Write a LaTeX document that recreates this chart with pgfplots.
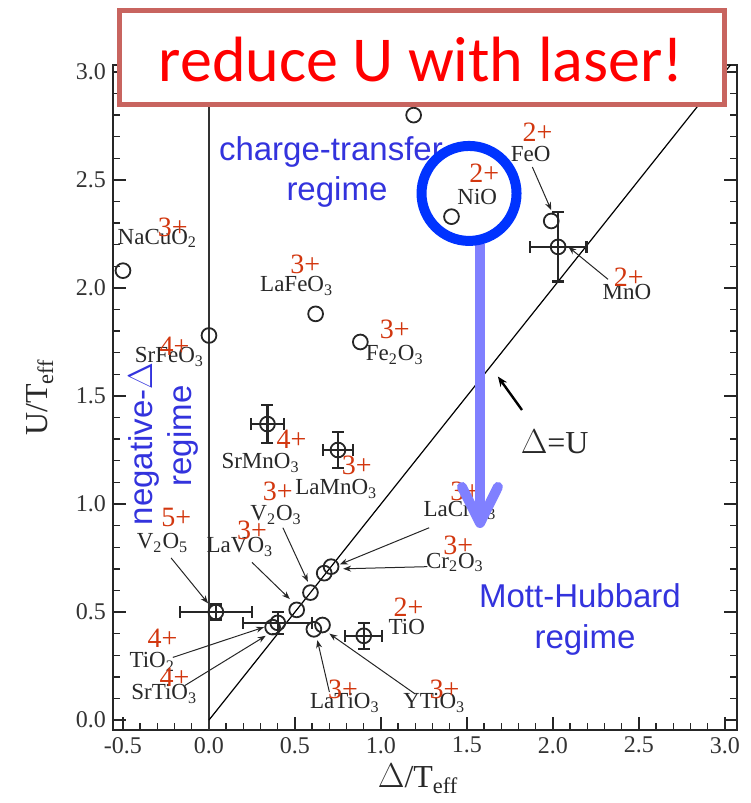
\documentclass[border=0pt]{standalone}
\usepackage{fontspec}
\setmainfont{Liberation Serif}
\newfontfamily\arialf{Liberation Sans}
\newfontfamily\calibrif{Carlito}
\usepackage{pgfplots}
\pgfplotsset{compat=1.18}
\usetikzlibrary{arrows.meta}

\definecolor{chg}{RGB}{210,55,15}
\definecolor{regimeblue}{RGB}{51,51,221}
\definecolor{ringblue}{RGB}{0,51,255}
\definecolor{arrowblue}{RGB}{128,128,255}
\definecolor{boxred}{RGB}{200,100,95}
\definecolor{ink}{RGB}{40,40,40}

% Delta/T_eff and U/T_eff of compounds without error bars
\pgfplotstableread{
x     y
-0.50 2.08
0.00  1.78
0.62  1.88
0.88  1.75
1.19  2.80
1.41  2.33
1.99  2.31
0.51  0.51
0.59  0.59
0.67  0.68
0.71  0.71
0.61  0.42
0.66  0.44
0.37  0.43
}\plainpts

% compounds with horizontal (ex) and vertical (ey) uncertainties
\pgfplotstableread{
x     y     ex     ey
2.03  2.19  0.165  0.16
0.34  1.37  0.096  0.088
0.75  1.25  0.087  0.083
0.04  0.50  0.21   0.035
0.40  0.45  0.20   0.05
0.90  0.39  0.107  0.06
}\errpts

\tikzset{
  cmp/.style={text=ink, font=\fontsize{11.5}{13}\selectfont, inner sep=0pt},
  ch/.style={text=chg, font=\fontsize{14}{16}\selectfont, inner sep=0pt},
  reg/.style={text=regimeblue, font=\arialf\fontsize{16.5}{20}\selectfont, inner sep=0pt, anchor=base},
  ann/.style={black!85, line width=0.5pt, -{Stealth[length=4pt,width=3pt]}},
}

\begin{document}
\begin{tikzpicture}
\useasboundingbox (0,0) rectangle (375pt,401.5pt);
\begin{axis}[
  at={(56.5pt,36.5pt)}, anchor=south west,
  scale only axis, width=312pt, height=332.5pt,
  xmin=-0.558, xmax=3.07, ymin=-0.046, ymax=3.032,
  clip=false,
  xtick={-0.5,0,0.5,1,1.5,2,2.5,3},
  ytick={0,0.5,1,1.5,2,2.5,3},
  minor tick num=4,
  tick align=inside,
  major tick length=6.5pt, minor tick length=3.5pt,
  tick style={black!85, line width=0.7pt},
  axis line style={black!85, line width=0.8pt},
  tick label style={font=\fontsize{12}{14}\selectfont, text=black!80,
    /pgf/number format/fixed, /pgf/number format/fixed zerofill,
    /pgf/number format/precision=1, /pgf/number format/assume math mode=true},
  xlabel={$\Delta$/T\textsubscript{eff}},
  ylabel={U/T\textsubscript{eff}},
  label style={font=\fontsize{16}{19}\selectfont, text=ink},
  xlabel style={at={(axis description cs:0.489,-0.087)}, anchor=base},
  ylabel style={at={(axis description cs:-0.117,0.5)}, anchor=center},
]
% reference lines: Delta = 0 and Delta = U
\addplot[black!80, line width=0.6pt] coordinates {(0,-0.046) (0,3.032)};
\addplot[black, line width=0.6pt] coordinates {(0,0) (3.032,3.032)};

% labelling arrows
\draw[ann] (axis cs:1.88,2.56) -- (axis cs:1.99,2.36);
\draw[ann] (axis cs:2.32,2.04) -- (axis cs:2.09,2.19);
\draw[ann] (axis cs:0.43,0.89) -- (axis cs:0.575,0.64);
\draw[ann] (axis cs:0.25,0.73) -- (axis cs:0.47,0.56);
\draw[ann] (axis cs:-0.22,0.75) -- (axis cs:-0.005,0.54);
\draw[ann] (axis cs:-0.21,0.29) -- (axis cs:0.32,0.43);
\draw[ann] (axis cs:-0.14,0.16) -- (axis cs:0.33,0.39);
\draw[ann] (axis cs:0.70,0.13) -- (axis cs:0.63,0.37);
\draw[ann] (axis cs:1.20,0.12) -- (axis cs:0.70,0.40);
\draw[ann] (axis cs:1.28,0.89) -- (axis cs:0.76,0.72);
\draw[ann] (axis cs:1.27,0.71) -- (axis cs:0.78,0.70);
\draw[black, line width=1.2pt, -{Stealth[length=5pt,width=4pt]}] (axis cs:1.82,1.435) -- (axis cs:1.68,1.59);

% measured compounds
\addplot[only marks, mark=o, mark size=3.7pt,
  mark options={line width=0.9pt, fill=white, draw=black!85}]
  table[x=x, y=y] {\plainpts};
\addplot[only marks, mark=o, mark size=3.7pt,
  mark options={line width=0.9pt, fill=white, draw=black!85},
  error bars/.cd, x dir=both, x explicit, y dir=both, y explicit,
  error bar style={line width=1.1pt, black!85},
  error mark options={line width=1.1pt, mark size=3pt, black!85, rotate=90}]
  table[x=x, y=y, x error=ex, y error=ey] {\errpts};

% compound names
\node[cmp] at (axis cs:-0.30,2.23) {NaCuO\textsubscript{2}};
\node[cmp] at (axis cs:0.51,2.01) {LaFeO\textsubscript{3}};
\node[cmp] at (axis cs:-0.23,1.68) {SrFeO\textsubscript{3}};
\node[cmp] at (axis cs:1.08,1.69) {Fe\textsubscript{2}O\textsubscript{3}};
\node[cmp] at (axis cs:1.56,2.42) {NiO};
\node[cmp] at (axis cs:1.87,2.62) {FeO};
\node[cmp] at (axis cs:2.43,1.98) {MnO};
\node[cmp] at (axis cs:0.30,1.19) {SrMnO\textsubscript{3}};
\node[cmp] at (axis cs:0.74,1.07) {LaMnO\textsubscript{3}};
\node[cmp] at (axis cs:0.39,0.95) {V\textsubscript{2}O\textsubscript{3}};
\node[cmp] at (axis cs:0.18,0.80) {LaVO\textsubscript{3}};
\node[cmp] at (axis cs:-0.27,0.82) {V\textsubscript{2}O\textsubscript{5}};
\node[cmp] at (axis cs:-0.33,0.27) {TiO\textsubscript{2}};
\node[cmp] at (axis cs:-0.26,0.12) {SrTiO\textsubscript{3}};
\node[cmp] at (axis cs:0.79,0.08) {LaTiO\textsubscript{3}};
\node[cmp] at (axis cs:1.31,0.08) {YTiO\textsubscript{3}};
\node[cmp] at (axis cs:1.15,0.43) {TiO};
\node[cmp] at (axis cs:1.46,0.97) {LaCrO\textsubscript{3}};
\node[cmp] at (axis cs:1.43,0.73) {Cr\textsubscript{2}O\textsubscript{3}};
\node[text=ink, font=\fontsize{16}{19}\selectfont] at (axis cs:2.01,1.29) {$\Delta$=U};

% valences
\node[ch] at (axis cs:-0.21,2.28) {3+};
\node[ch] at (axis cs:0.56,2.11) {3+};
\node[ch] at (axis cs:-0.20,1.73) {4+};
\node[ch] at (axis cs:1.08,1.81) {3+};
\node[ch] at (axis cs:1.60,2.53) {2+};
\node[ch] at (axis cs:1.91,2.72) {2+};
\node[ch] at (axis cs:2.44,2.05) {2+};
\node[ch] at (axis cs:0.48,1.30) {4+};
\node[ch] at (axis cs:0.86,1.18) {3+};
\node[ch] at (axis cs:0.40,1.06) {3+};
\node[ch] at (axis cs:0.25,0.88) {3+};
\node[ch] at (axis cs:-0.19,0.94) {5+};
\node[ch] at (axis cs:-0.27,0.38) {4+};
\node[ch] at (axis cs:-0.20,0.20) {4+};
\node[ch] at (axis cs:0.78,0.14) {3+};
\node[ch] at (axis cs:1.37,0.14) {3+};
\node[ch] at (axis cs:1.16,0.52) {2+};
\node[ch] at (axis cs:1.49,1.06) {3+};
\node[ch] at (axis cs:1.45,0.81) {3+};

% regimes
\node[reg] at (axis cs:0.709,2.588) {charge-transfer};
\node[reg] at (axis cs:0.744,2.403) {regime};
\node[reg] at (axis cs:2.157,0.519) {Mott-Hubbard};
\node[reg] at (axis cs:2.186,0.333) {regime};
\node[reg, rotate=90] at (axis cs:-0.331,1.278) {negative-$\Delta$};
\node[reg, rotate=90] at (axis cs:-0.099,1.315) {regime};

% anchor points for the overlay
\coordinate (bsw) at (axis cs:-0.520,2.847);
\coordinate (bne) at (axis cs:2.997,3.285);
\coordinate (btxt) at (axis cs:1.233,2.954);
\coordinate (ring) at (axis cs:1.512,2.4375);
\coordinate (s1) at (axis cs:1.576,2.204);
\coordinate (tip) at (axis cs:1.576,0.912);
\coordinate (w1) at (axis cs:1.471,1.079);
\coordinate (w2) at (axis cs:1.680,1.079);
\end{axis}

% overlay: headline box, ring around NiO and downward arrow
\draw[boxred, line width=2.5pt, fill=white] (bsw) rectangle (bne);
\node[anchor=base, text=red, font=\calibrif\fontsize{32}{38}\selectfont, inner sep=0pt] at (btxt) {reduce U with laser!};
\draw[arrowblue, line width=5pt] (s1) -- (tip);
\draw[arrowblue, line width=5pt, line cap=round, line join=round] (w1) -- (tip) -- (w2);
\draw[ringblue, line width=5pt] (ring) circle[radius=23.75pt];
\end{tikzpicture}
\end{document}
